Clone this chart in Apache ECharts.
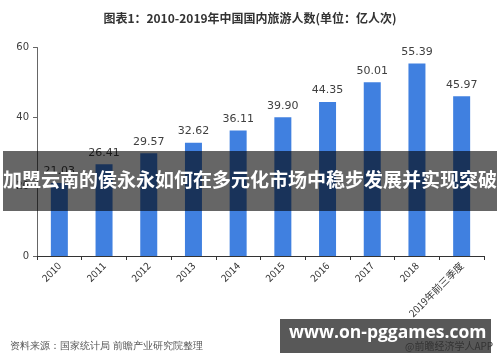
<!DOCTYPE html>
<html>
<head>
<meta charset="utf-8">
<script src="https://cdn.jsdelivr.net/npm/echarts@6/dist/echarts.min.js"></script>
<style>
html,body{margin:0;padding:0;background:#fff;}
#main{width:500px;height:362px;}
</style>
</head>
<body>
<div id="main"></div>
<script>
var categories = ['2010','2011','2012','2013','2014','2015','2016','2017','2018','2019年前三季度'];
var values = [21.03, 26.41, 29.57, 32.62, 36.11, 39.90, 44.35, 50.01, 55.39, 45.97];
var valueLabels = ['21.03','26.41','29.57','32.62','36.11','39.90','44.35','50.01','55.39','45.97'];
var titleText = '图表1：2010-2019年中国国内旅游人数(单位：亿人次)';
var bannerText = '加盟云南的侯永永如何在多元化市场中稳步发展并实现突破';
var sourceText = '资料来源：国家统计局 前瞻产业研究院整理';
var siteText = 'www.on-pggames.com';
var appText = '@前瞻经济学人APP';

var chart = echarts.init(document.getElementById('main'), null, {renderer:'canvas'});
var cjk = '"Noto Sans CJK SC", "DejaVu Sans", sans-serif';
chart.setOption({
  backgroundColor:'#ffffff',
  animation:false,
  title:{
    text:titleText, left:'center', top:7,
    textStyle:{fontSize:12, fontWeight:'bold', color:'#333', fontFamily:cjk}
  },
  grid:{left:37, right:16, top:47.5, bottom:106, containLabel:false},
  xAxis:{
    type:'category', data:categories,
    axisLine:{lineStyle:{color:'#333', width:1}},
    axisTick:{show:true, alignWithLabel:false, length:4, lineStyle:{color:'#333'}},
    axisLabel:{rotate:45, fontSize:10, color:'#333', margin:8, interval:0, fontFamily:cjk}
  },
  yAxis:{
    type:'value', min:0, max:60, interval:20,
    axisLine:{show:true, lineStyle:{color:'#666'}},
    axisTick:{show:true, length:4, lineStyle:{color:'#666'}},
    axisLabel:{fontSize:10, color:'#404040', margin:8, fontFamily:'"DejaVu Sans", sans-serif'},
    splitLine:{show:false}
  },
  series:[{
    type:'bar', data:values, barWidth:17,
    itemStyle:{color:'#4080e0'},
    label:{show:true, position:'top', distance:6, fontSize:11, color:'#404040',
      fontFamily:'"DejaVu Sans", sans-serif',
      formatter:function(p){return valueLabels[p.dataIndex];}}
  }],
  graphic:[
    {type:'text', left:10, top:341, z:10,
      style:{text:sourceText, fontSize:10, fill:'#555', font:'10px "Noto Sans CJK SC", sans-serif'}},
    {type:'rect', left:3, top:151, z:20,
      shape:{width:494, height:60},
      style:{fill:'rgba(0,0,0,0.6)'}},
    {type:'text', left:'center', top:170, z:21,
      style:{text:bannerText, fill:'#fff', font:'bold 19px "Noto Sans CJK SC", sans-serif', textAlign:'left'}},
    {type:'rect', left:280, top:319, z:20,
      shape:{width:211, height:34},
      style:{fill:'rgba(70,70,70,0.9)'}},
    {type:'text', left:289, top:324, z:21,
      style:{text:siteText, fill:'#fff', font:'bold 17.5px "Open Sans", sans-serif'}},
    {type:'text', left:405, top:341, z:22,
      style:{text:appText, fill:'#333', font:'10px "Noto Sans CJK SC", sans-serif'}}
  ]
});
</script>
</body>
</html>
